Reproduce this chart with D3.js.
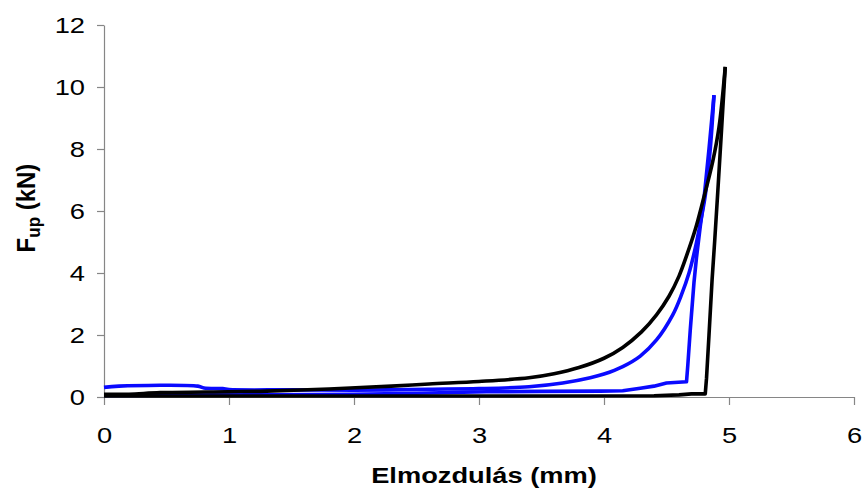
<!DOCTYPE html>
<html>
<head>
<meta charset="utf-8">
<script src="https://cdn.jsdelivr.net/npm/d3@7/dist/d3.min.js"></script>
<style>
  html, body { margin: 0; padding: 0; background: #fff; }
  svg { display: block; }
</style>
</head>
<body>
<svg id="chart" width="863" height="497"></svg>
<script>
// ---- data (x: Elmozdulás mm, y: F_up kN) ----
const xTicks = [0, 1, 2, 3, 4, 5, 6];
const yTicks = [0, 2, 4, 6, 8, 10, 12];

const blackLoadX = [0, 0.2, 0.45, 1.0, 1.3, 1.8, 2.3, 2.6, 3.0, 3.4, 3.6, 3.8, 4.0, 4.15, 4.3, 4.42, 4.52, 4.6, 4.66, 4.73, 4.79, 4.87, 4.92, 4.97];
const blackLoadY = [0.09, 0.09, 0.14, 0.17, 0.19, 0.26, 0.35, 0.42, 0.5, 0.62, 0.75, 0.95, 1.25, 1.6, 2.1, 2.65, 3.25, 3.9, 4.55, 5.4, 6.3, 7.6, 8.7, 10.65];
const blackUnloadX = [4.97, 4.94, 4.91, 4.885, 4.865, 4.84, 4.82, 4.81, 4.7, 4.6, 4.4, 3.0, 0];
const blackUnloadY = [10.65, 8.6, 6.6, 5.0, 3.8, 2.0, 0.6, 0.1, 0.1, 0.07, 0.04, 0.03, 0.03];

const blueLoadX = [0, 0.12, 0.75, 0.8, 0.95, 1.0, 1.5, 2.0, 2.6, 3.0, 3.4, 3.67, 3.89, 4.0, 4.15, 4.29, 4.42, 4.55, 4.62, 4.68, 4.73, 4.77, 4.81, 4.85, 4.88];
const blueLoadY = [0.31, 0.35, 0.35, 0.29, 0.27, 0.24, 0.23, 0.22, 0.25, 0.27, 0.33, 0.45, 0.62, 0.74, 0.98, 1.32, 1.84, 2.65, 3.3, 4.0, 4.8, 5.6, 6.5, 8.0, 9.74];
const blueUnloadX = [4.88, 4.84, 4.8, 4.77, 4.74, 4.72, 4.69, 4.67, 4.66, 4.5, 4.4, 4.29, 4.15, 3.97, 3.5, 3.06, 2.5, 2.0, 1.3, 0.5, 0];
const blueUnloadY = [9.74, 8.0, 6.4, 5.5, 4.5, 3.7, 2.16, 1.0, 0.49, 0.45, 0.35, 0.28, 0.2, 0.19, 0.18, 0.17, 0.12, 0.09, 0.07, 0.06, 0.05];

// ---- layout ----
const svg = d3.select("#chart");
const x = d3.scaleLinear().domain([0, 6]).range([104, 854]);
const y = d3.scaleLinear().domain([0, 12]).range([397, 25]);
const axisColor = "#868686";
const stretch = 1.24;
const fontFam = "'Liberation Sans', Arial, sans-serif";

// axes
const xAxis = svg.append("g").attr("transform", `translate(0,${y(0)})`)
  .call(d3.axisBottom(x).tickValues(xTicks).tickSize(8).tickSizeOuter(0).tickFormat(d3.format("d")));
const yAxis = svg.append("g").attr("transform", `translate(${x(0)},0)`)
  .call(d3.axisLeft(y).tickValues(yTicks).tickSize(7).tickSizeOuter(0).tickFormat(d3.format("d")));

[xAxis, yAxis].forEach(g => {
  g.select(".domain").attr("stroke", axisColor).attr("stroke-width", 1.2);
  g.selectAll(".tick line").attr("stroke", axisColor).attr("stroke-width", 1.2);
  g.selectAll(".tick text").attr("fill", "#000").attr("font-size", 22).attr("font-family", fontFam);
});
xAxis.selectAll(".tick text").attr("y", 0).attr("dy", 0)
  .attr("transform", `translate(0,${443 - y(0)}) scale(${stretch},1)`);
yAxis.selectAll(".tick text").attr("x", 0).attr("dy", "0.36em")
  .attr("text-anchor", "end")
  .attr("transform", `translate(-19,0) scale(${stretch},1)`);

// series
const smooth = d3.line().x(d => x(d[0])).y(d => y(d[1])).curve(d3.curveCatmullRom.alpha(0.5));
const straight = d3.line().x(d => x(d[0])).y(d => y(d[1]));
const zip = (a, b) => a.map((v, i) => [v, b[i]]);
const series = [
  { xs: blueLoadX, ys: blueLoadY, color: "#0a0aff", gen: smooth },
  { xs: blueUnloadX, ys: blueUnloadY, color: "#0a0aff", gen: straight },
  { xs: blackUnloadX, ys: blackUnloadY, color: "#000", gen: straight },
  { xs: blackLoadX, ys: blackLoadY, color: "#000", gen: smooth }
];
svg.append("g").selectAll("path").data(series).join("path")
  .attr("d", s => s.gen(zip(s.xs, s.ys)))
  .attr("fill", "none")
  .attr("stroke", s => s.color)
  .attr("stroke-width", 3.6)
  .attr("stroke-linejoin", "round");

// axis titles
svg.append("text")
  .attr("transform", `translate(484,483) scale(${stretch},1)`)
  .attr("text-anchor", "middle")
  .attr("font-family", fontFam).attr("font-weight", "bold").attr("font-size", 22)
  .text("Elmozdulás (mm)");

const yt = svg.append("text")
  .attr("transform", `translate(35,208) scale(1.08,1) rotate(-90)`)
  .attr("text-anchor", "middle")
  .attr("font-family", fontFam).attr("font-weight", "bold").attr("font-size", 24);
yt.append("tspan").text("F");
yt.append("tspan").attr("font-size", 17).attr("dy", 5).text("up");
yt.append("tspan").attr("dy", -5).text(" (kN)");
</script>
</body>
</html>
